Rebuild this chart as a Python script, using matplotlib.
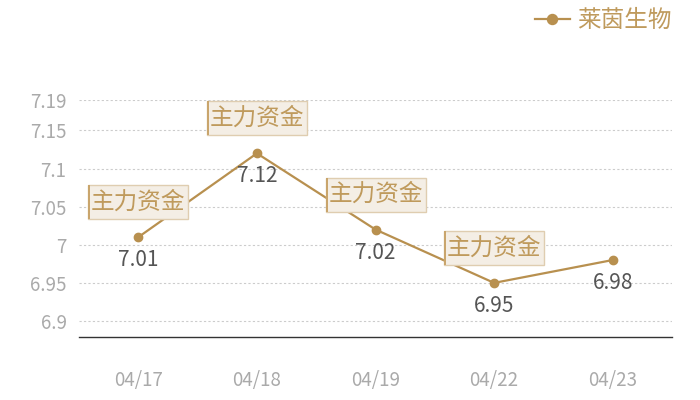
import matplotlib
matplotlib.use('Agg')
import matplotlib.pyplot as plt
from matplotlib.patches import Rectangle
from matplotlib.transforms import IdentityTransform

plt.rcParams['font.family'] = ['Noto Sans CJK SC', 'DejaVu Sans']

# 数据
fechas = ['04/17', '04/18', '04/19', '04/22', '04/23']
precios = [7.01, 7.12, 7.02, 6.95, 6.98]
marcas = [0, 1, 2, 3]  # puntos con la etiqueta "主力资金"
texto_marca = '主力资金'
serie = '莱茵生物'
yticks = [6.9, 6.95, 7, 7.05, 7.1, 7.15, 7.19]
ytick_labels = ['6.9', '6.95', '7', '7.05', '7.1', '7.15', '7.19']

color_linea = '#b8904f'
color_texto = '#bf9a5c'

fig = plt.figure(figsize=(7, 4), dpi=100)
ax = fig.add_axes([79 / 700, 63 / 400, 593 / 700, 237 / 400])

x = list(range(len(fechas)))
ax.plot(x, precios, color=color_linea, lw=1.6, marker='o', ms=6, label=serie, zorder=3)

ax.set_xlim(-0.5, len(fechas) - 0.5)
ax.set_ylim(6.879, 7.19)
ax.set_xticks(x)
ax.set_xticklabels(fechas)
ax.set_yticks(yticks)
ax.set_yticklabels(ytick_labels)
ax.tick_params(axis='x', length=0, pad=24, labelsize=13.5, labelcolor='#aaaaaa')
ax.tick_params(axis='y', length=0, pad=9, labelsize=13.5, labelcolor='#aaaaaa')
ax.grid(axis='y', color='#cccccc', lw=0.8, linestyle=(0, (2, 2)))
ax.set_axisbelow(True)
for s in ['top', 'right', 'left']:
    ax.spines[s].set_visible(False)
ax.spines['bottom'].set_color('#333333')
ax.spines['bottom'].set_linewidth(1)

# etiquetas de valor
for i, v in zip(x, precios):
    ax.annotate(f'{v:.2f}', (i, v), xytext=(0, -23), textcoords='offset pixels',
                ha='center', va='center', fontsize=15, color='#555555')

# cajas "主力资金"
for i in marcas:
    px, py = ax.transData.transform((x[i], precios[i]))
    cx, cy = px, py + 35
    w, h = 100, 34
    fig.patches.append(Rectangle((cx - w / 2, cy - h / 2), w, h, transform=IdentityTransform(),
                                 facecolor='#f4eee5', edgecolor='#dfcdb0', lw=1, zorder=4))
    fig.patches.append(Rectangle((cx - w / 2, cy - h / 2), 2, h, transform=IdentityTransform(),
                                 facecolor='#c9a56c', edgecolor='none', zorder=5))
    fig.text(cx / 700, cy / 400, texto_marca, ha='center', va='center',
             fontsize=17, color=color_texto, zorder=6)

fig.legend(loc='upper right', bbox_to_anchor=(0.99, 1.03), frameon=False,
           fontsize=17, labelcolor=color_texto, handlelength=1.5, handletextpad=0.3,
           markerscale=1.2)

fig.savefig('out.png', dpi=100)
